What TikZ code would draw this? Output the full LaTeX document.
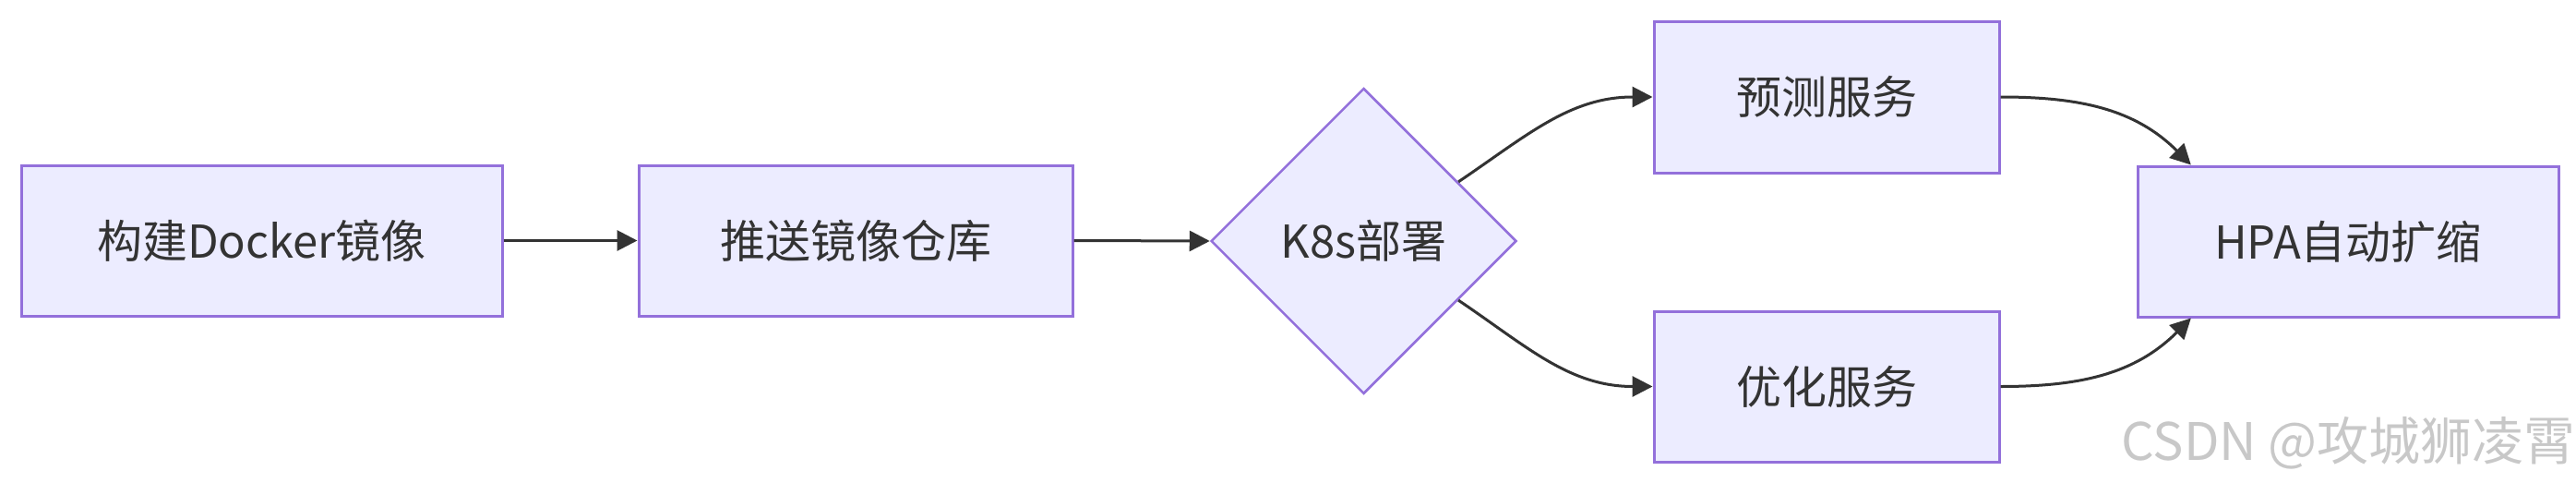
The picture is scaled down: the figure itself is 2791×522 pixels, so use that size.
\documentclass[tikz,border=0pt]{standalone}
\usepackage{fontspec}
\setmainfont{Noto Sans CJK SC}
\usetikzlibrary{shapes.geometric,arrows.meta}
\definecolor{boxfill}{HTML}{ECECFF}
\definecolor{boxline}{HTML}{9370DB}
\definecolor{edgecol}{HTML}{333333}
\definecolor{wmark}{HTML}{C8C8C8}
\tikzset{
  procbox/.style={rectangle, draw=boxline, fill=boxfill, line width=3pt, inner sep=0pt,
    text=edgecol, font=\fontsize{49}{55}\selectfont},
  decbox/.style={diamond, draw=boxline, fill=boxfill, line width=2.5pt, inner sep=0pt,
    aspect=1, text=edgecol, font=\fontsize{49}{55}\selectfont},
  flow/.style={draw=edgecol, line width=3pt, -{Triangle[length=22pt,width=22pt]}},
}
\begin{document}
\begin{tikzpicture}[x=1pt,y=-1pt]
\useasboundingbox (0,0) rectangle (2791,522);
\node[procbox, minimum width=521pt, minimum height=163pt] (n1) at (283.5,260.5) {构建Docker镜像};
\node[procbox, minimum width=470pt, minimum height=163pt] (n2) at (927,260.5) {推送镜像仓库};
\node[decbox, minimum width=331pt, minimum height=331pt] (d) at (1477.5,261) {K8s部署};
\node[procbox, minimum width=374pt, minimum height=164pt] (n3) at (1979,105) {预测服务};
\node[procbox, minimum width=374pt, minimum height=163pt] (n4) at (1979,418.5) {优化服务};
\node[procbox, minimum width=456pt, minimum height=163pt] (n5) at (2544,261.5) {HPA自动扩缩};
\draw[flow] (n1.east) -- (n2.west);
\draw[flow] (n2.east) -- (d.west);
\draw[flow] (d.32) to[out=34,in=180] (n3.west);
\draw[flow] (d.-32) to[out=-34,in=180] (n4.west);
\draw[flow] (n3.east) to[out=0,in=135] (n5.154);
\draw[flow] (n4.east) to[out=0,in=-135] (n5.-154);
\node[anchor=south east, inner sep=0pt, text=wmark, font=\fontsize{56}{60}\selectfont] (wm) at (2791,508) {CSDN @攻城狮凌霄};
\end{tikzpicture}
\end{document}
